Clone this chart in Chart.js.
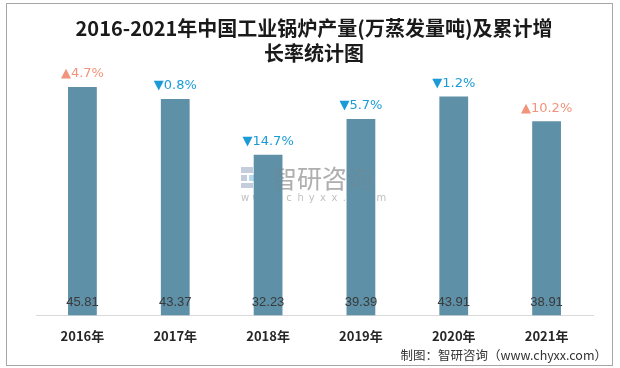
<!DOCTYPE html>
<html><head><meta charset="utf-8">
<script src="https://cdn.jsdelivr.net/npm/chart.js@4/dist/chart.umd.min.js"></script>
<style>html,body{margin:0;padding:0;background:#fff}#wrap{width:620px;height:368px;position:relative}</style>
</head><body><div id="wrap"><canvas id="c" width="620" height="368"></canvas></div>
<script>
const categories = ['2016年','2017年','2018年','2019年','2020年','2021年'];
const output = [45.81, 43.37, 32.23, 39.39, 43.91, 38.91];
const growth = [4.7, -0.8, -14.7, -5.7, -1.2, 10.2];
const titleLines = ['2016-2021年中国工业锅炉产量(万蒸发量吨)及累计增', '长率统计图'];
const sourceText = '制图：智研咨询（www.chyxx.com）';

const UP = '#F2937C', DOWN = '#1A9BD7';

const deco = {
  id: 'deco',
  beforeDraw(chart) {
    const ctx = chart.ctx;
    ctx.save();
    ctx.fillStyle = '#fff';
    ctx.fillRect(0, 0, chart.width, chart.height);
    ctx.strokeStyle = '#a6a6a6';
    ctx.lineWidth = 1;
    ctx.strokeRect(6.5, 3.5, 606, 362);
    ctx.fillStyle = '#1a1a1a';
    ctx.textAlign = 'center';
    ctx.textBaseline = 'middle';
    ctx.font = 'bold 20px "Noto Sans CJK SC"';
    ctx.fillText(titleLines[0], 314, 28);
    ctx.fillText(titleLines[1], 314, 53);
    ctx.restore();
  },
  beforeDatasetsDraw(chart) {
    const ctx = chart.ctx;
    ctx.save();
    ctx.textBaseline = 'middle';
    ctx.globalAlpha = 0.5;
    ctx.fillStyle = '#8a9bb8';
    ctx.fillRect(241, 167, 12, 6);
    ctx.fillRect(241, 175, 6, 6);
    ctx.fillRect(241, 183, 12, 5);
    ctx.fillStyle = '#6fb3e0';
    ctx.fillRect(249, 175, 6, 6);
    ctx.fillStyle = '#5c6f9a';
    ctx.fillRect(256, 167, 6, 21);
    ctx.fillStyle = '#7f7f7f';
    ctx.textAlign = 'left';
    ctx.font = '25px "Noto Sans CJK SC"';
    ctx.fillText('智研咨询', 272, 178);
    ctx.font = '10px "DejaVu Sans"';
    const w = 'www.chyxx.com';
    for (let k = 0; k < w.length; k++) ctx.fillText(w[k], 241 + k * 11.3, 198);
    ctx.restore();
  },
  afterDatasetsDraw(chart) {
    const ctx = chart.ctx;
    const meta = chart.getDatasetMeta(0);
    ctx.save();
    ctx.textBaseline = 'middle';
    ctx.globalAlpha = 0.25;
    ctx.fillStyle = '#7f7f7f';
    ctx.textAlign = 'left';
    ctx.font = '25px "Noto Sans CJK SC"';
    ctx.fillText('智研咨询', 272, 178);
    ctx.globalAlpha = 1;
    ctx.textAlign = 'center';
    meta.data.forEach((bar, i) => {
      ctx.fillStyle = '#3a3a3a';
      ctx.font = '13px "Liberation Sans", Arial, sans-serif';
      ctx.fillText(output[i].toFixed(2), bar.x, chart.chartArea.bottom - 13);
      const g = growth[i];
      const up = g >= 0;
      ctx.fillStyle = up ? UP : DOWN;
      const txt = (up ? '▲' : '▼') + Math.abs(g).toFixed(1) + '%';
      ctx.font = '13px "DejaVu Sans", sans-serif';
      ctx.fillText(txt, bar.x, bar.y - 13);
    });
    ctx.fillStyle = '#333';
    ctx.textAlign = 'right';
    ctx.font = '12.5px "Noto Sans CJK SC"';
    ctx.fillText(sourceText, 607, 355);
    ctx.restore();
  }
};

new Chart(document.getElementById('c'), {
  type: 'bar',
  data: {
    labels: categories,
    datasets: [{
      data: output,
      backgroundColor: '#5E90A7',
      borderWidth: 0,
      barPercentage: 0.31,
      categoryPercentage: 1
    }]
  },
  options: {
    responsive: false,
    animation: false,
    layout: { padding: { left: 36, right: 27, top: 66, bottom: 11 } },
    plugins: { legend: { display: false }, title: { display: false }, tooltip: { enabled: false } },
    scales: {
      x: {
        grid: { display: false, drawTicks: false },
        border: { display: true, color: '#d9d9d9', width: 1 },
        ticks: { color: '#262626', padding: 13, font: { size: 13, weight: 'bold', family: '"Noto Sans CJK SC"' } }
      },
      y: { display: false, min: 0, max: 50 }
    }
  },
  plugins: [deco]
});
</script></body></html>
